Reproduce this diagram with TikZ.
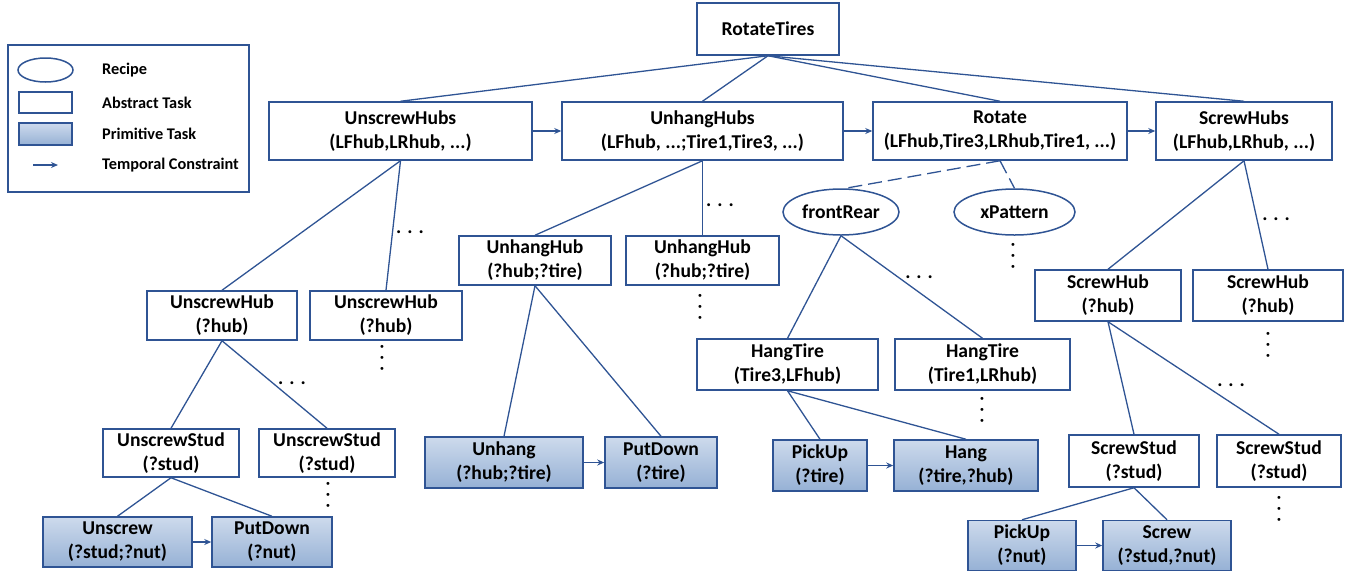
\documentclass[tikz,border=0pt]{standalone}
\usepackage{fontspec}
\setmainfont{Carlito}
\usetikzlibrary{shapes.geometric,arrows.meta}
\definecolor{edgeblue}{RGB}{47,84,148}
\definecolor{primtop}{RGB}{205,218,236}
\definecolor{primbot}{RGB}{150,177,213}
\tikzset{
 base/.style={draw=edgeblue, line width=1.5pt, inner sep=0pt, align=center, font=\fontsize{19.6}{24}\selectfont\bfseries, text=black},
 abs/.style={base, rectangle, fill=white},
 prim/.style={base, rectangle, top color=primtop, bottom color=primbot},
 recipe/.style={base, ellipse, fill=white},
 conn/.style={draw=edgeblue, line width=1.3pt},
 tarrow/.style={conn, -{Stealth[length=7pt,width=6pt]}},
 hdots/.style={inner sep=0pt, font=\fontsize{19.6}{24}\selectfont\bfseries},
 vdots/.style={hdots, rotate=90},
 legtext/.style={anchor=west, inner sep=0pt, font=\fontsize{16.3}{19}\selectfont\bfseries},
 sz/.style 2 args={minimum width=#1pt, minimum height=#2pt},
}
\begin{document}
\begin{tikzpicture}[x=1pt,y=-1pt]
\useasboundingbox (0,0) rectangle (1351,571);
% legend
\node[draw=edgeblue, line width=1.5pt, sz={241}{147}] (legend) at (128.5,118.5) {};
\node[recipe, sz={55}{24}] (lrec) at (45.5,70) {};
\node[abs, sz={53}{21}] (labs) at (45.5,102.5) {};
\node[prim, sz={53}{22}] (lprim) at (45.5,134) {};
\coordinate (la1) at (33,165);
\coordinate (la2) at (58,165);
\draw[tarrow] (la1) -- (la2);
\node[legtext] (t1) at (102,70) {Recipe};
\node[legtext] (t2) at (102,103) {Abstract Task};
\node[legtext] (t3) at (102,134) {Primitive Task};
\node[legtext] (t4) at (102,165) {Temporal Constraint};
% top
\node[abs, sz={142}{52}] (rt) at (768,29) {RotateTires};
\node[abs, sz={263}{58}] (uhs) at (400.5,131) {UnscrewHubs\\(LFhub,LRhub, ...)};
\node[abs, sz={281}{58}] (hhs) at (702.5,131) {UnhangHubs\\(LFhub, ...;Tire1,Tire3, ...)};
\node[abs, sz={254}{58}] (rot) at (1000,131) {Rotate\\(LFhub,Tire3,LRhub,Tire1, ...)};
\node[abs, sz={176}{58}] (shs) at (1244,131) {ScrewHubs\\(LFhub,LRhub, ...)};
% level 2
\node[abs, sz={150}{49}] (uh1) at (222,315.5) {UnscrewHub\\(?hub)};
\node[abs, sz={152}{49}] (uh2) at (386,315.5) {UnscrewHub\\(?hub)};
\node[abs, sz={152}{49}] (hh1) at (535,260.5) {UnhangHub\\(?hub;?tire)};
\node[abs, sz={153}{49}] (hh2) at (702.5,260.5) {UnhangHub\\(?hub;?tire)};
\node[recipe, sz={116}{46}] (fr) at (841,212) {frontRear};
\node[recipe, sz={121}{46}] (xp) at (1014.5,212) {xPattern};
\node[abs, sz={146}{51}] (sh1) at (1108,295.5) {ScrewHub\\(?hub)};
\node[abs, sz={150}{51}] (sh2) at (1268,295.5) {ScrewHub\\(?hub)};
% level 3
\node[abs, sz={136}{48}] (us1) at (171,453) {UnscrewStud\\(?stud)};
\node[abs, sz={136}{48}] (us2) at (327,453) {UnscrewStud\\(?stud)};
\node[abs, sz={181}{51}] (ht1) at (787.5,364.5) {HangTire\\(Tire3,LFhub)};
\node[abs, sz={175}{51}] (ht2) at (982.5,364.5) {HangTire\\(Tire1,LRhub)};
\node[abs, sz={130}{52}] (ss1) at (1134,461) {ScrewStud\\(?stud)};
\node[abs, sz={124}{52}] (ss2) at (1279,461) {ScrewStud\\(?stud)};
% primitives
\node[prim, sz={149}{50}] (unscrew) at (117.5,542) {Unscrew\\(?stud;?nut)};
\node[prim, sz={120}{50}] (pd1) at (272,542) {PutDown\\(?nut)};
\node[prim, sz={158}{51}] (unhang) at (504,462.5) {Unhang\\(?hub;?tire)};
\node[prim, sz={112}{51}] (pd2) at (661,462.5) {PutDown\\(?tire)};
\node[prim, sz={94}{51}] (pu1) at (820,465.5) {PickUp\\(?tire)};
\node[prim, sz={144}{51}] (hang) at (966,465.5) {Hang\\(?tire,?hub)};
\node[prim, sz={108}{50}] (pu2) at (1022,545.5) {PickUp\\(?nut)};
\node[prim, sz={128}{50}] (screw) at (1167,545.5) {Screw\\(?stud,?nut)};
% connectors
\draw[conn] (rt.south) -- (uhs.north);
\draw[conn] (rt.south) -- (hhs.north);
\draw[conn] (rt.south) -- (rot.north);
\draw[conn] (rt.south) -- (shs.north);
\draw[conn] (uhs.south) -- (uh1.north);
\draw[conn] (uhs.south) -- (uh2.north);
\draw[conn] (hhs.south) -- (hh1.north);
\draw[conn] (hhs.south) -- (hh2.north);
\draw[conn, dash pattern=on 14pt off 6pt] (rot.south) -- (fr.80);
\draw[conn, dash pattern=on 14pt off 6pt] (rot.south) -- (xp.north);
\draw[conn] (shs.south) -- (sh1.north);
\draw[conn] (shs.south) -- (sh2.north);
\draw[conn] (uh1.south) -- (us1.north);
\draw[conn] (uh1.south) -- (us2.north);
\draw[conn] (us1.south) -- (unscrew.north);
\draw[conn] (us1.south) -- (pd1.north);
\draw[conn] (hh1.south) -- (unhang.north);
\draw[conn] (hh1.south) -- (pd2.north);
\draw[conn] (fr.south) -- (ht1.north);
\draw[conn] (fr.south) -- (ht2.north);
\draw[conn] (ht1.south) -- (pu1.north);
\draw[conn] (ht1.south) -- (hang.north);
\draw[conn] (sh1.south) -- (ss1.north);
\draw[conn] (sh1.south) -- (ss2.north);
\draw[conn] (ss1.south) -- (pu2.north);
\draw[conn] (ss1.south) -- (screw.north);
% temporal constraints
\draw[tarrow] (uhs.east) -- (hhs.west);
\draw[tarrow] (hhs.east) -- (rot.west);
\draw[tarrow] (rot.east) -- (shs.west);
\draw[tarrow] (unscrew.east) -- (pd1.west);
\draw[tarrow] (unhang.east) -- (pd2.west);
\draw[tarrow] (pu1.east) -- (hang.west);
\draw[tarrow] (pu2.east) -- (screw.west);
% dots
\node[hdots] (d1) at (410,232) {. . .};
\node[hdots] (d2) at (720,205) {. . .};
\node[hdots] (d3) at (919,277) {. . .};
\node[hdots] (d4) at (1276,219) {. . .};
\node[hdots] (d5) at (292,383) {. . .};
\node[hdots] (d6) at (1231,385) {. . .};
\node[vdots] (v1) at (700,307) {. . .};
\node[vdots] (v2) at (382,358) {. . .};
\node[vdots] (v3) at (1013,256) {. . .};
\node[vdots] (v4) at (982,410) {. . .};
\node[vdots] (v5) at (1268,345) {. . .};
\node[vdots] (v6) at (328,495) {. . .};
\node[vdots] (v7) at (1279,509) {. . .};
\end{tikzpicture}
\end{document}
